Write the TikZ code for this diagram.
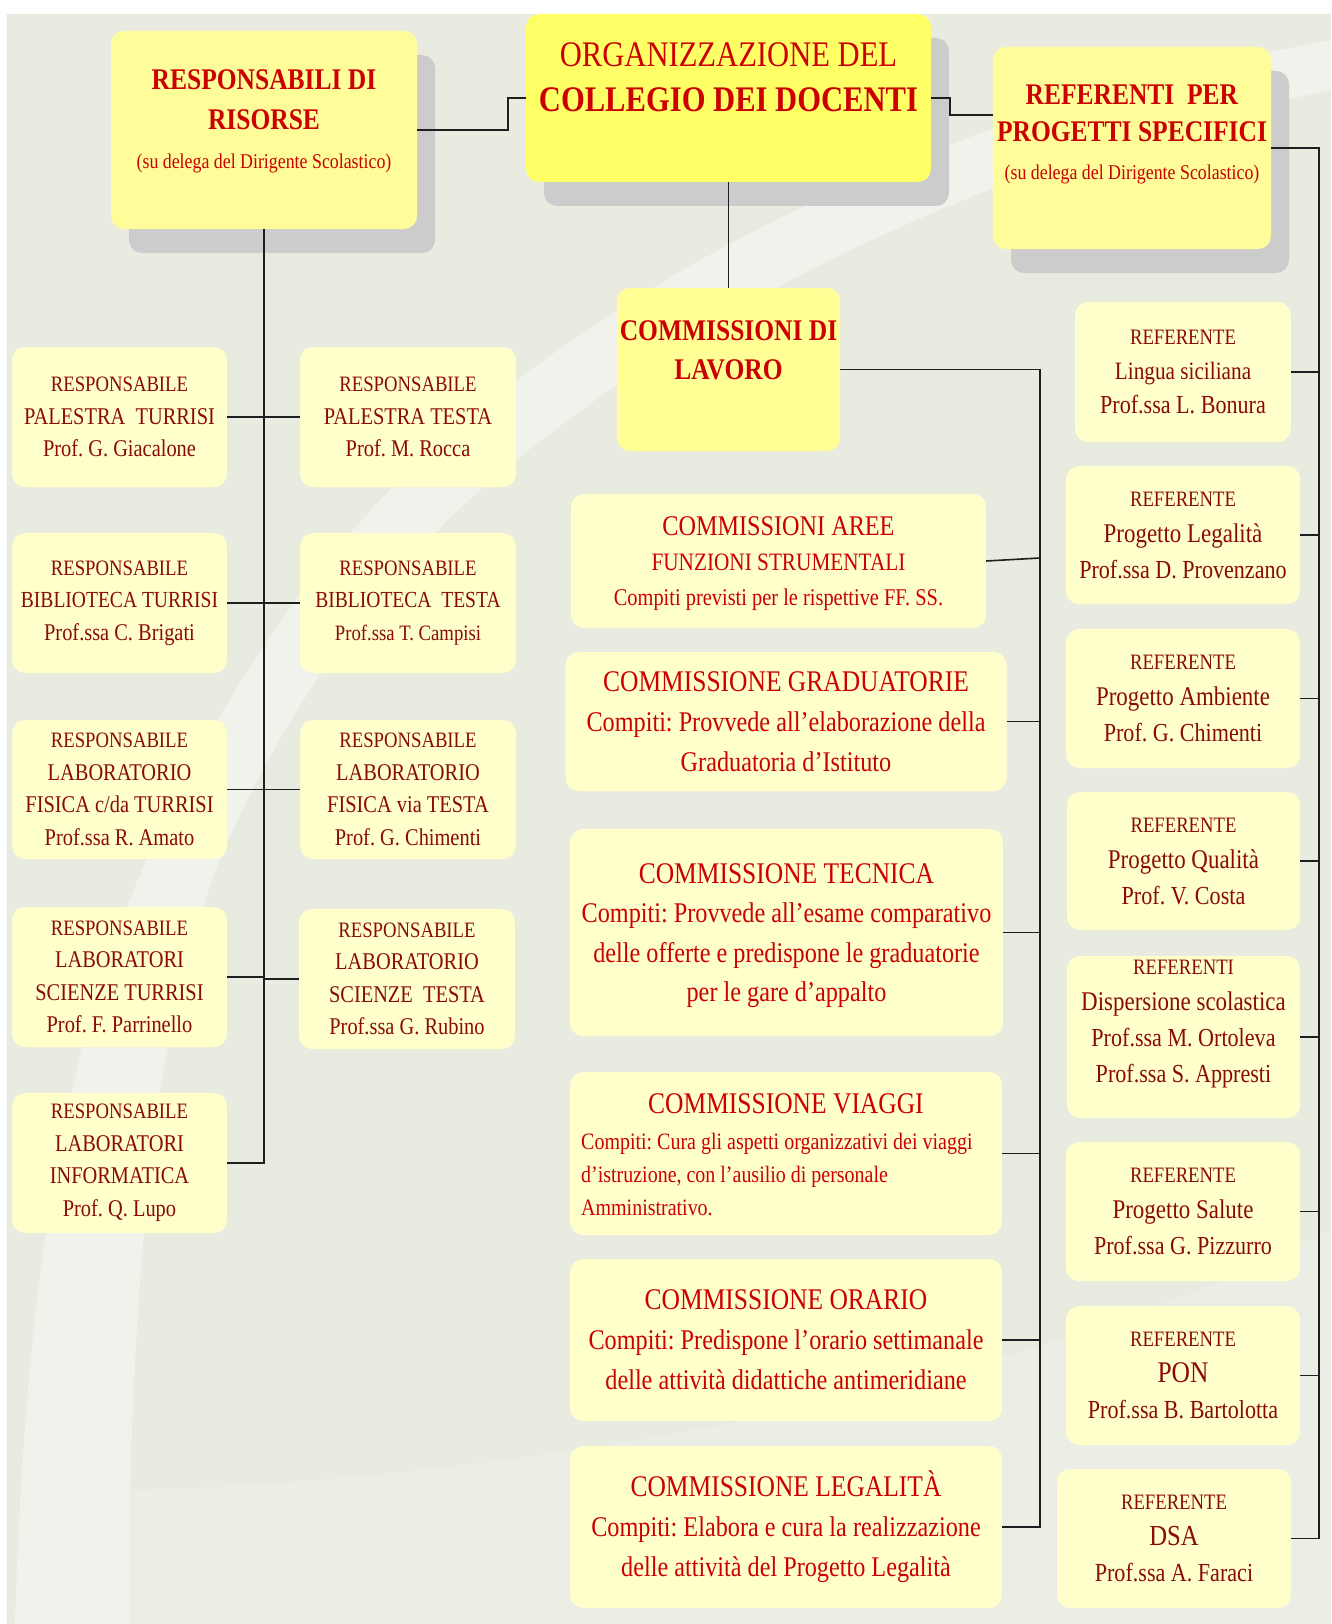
\documentclass[tikz,border=0pt]{standalone}
\usepackage{fontspec}
\setmainfont{Liberation Serif}[FakeStretch=0.85]
\usetikzlibrary{shadows}
\frenchspacing

\definecolor{bgbase}{RGB}{233,235,224}
\definecolor{bglight}{RGB}{241,242,235}
\definecolor{bgmid}{RGB}{236,238,229}
\definecolor{shadowgray}{RGB}{204,204,204}
\definecolor{headyellow}{RGB}{255,255,102}
\definecolor{paleyellow}{RGB}{255,253,153}
\definecolor{lavyellow}{RGB}{255,255,150}
\definecolor{cream}{RGB}{255,255,204}
\definecolor{docred}{RGB}{204,0,0}
\definecolor{maroonc}{RGB}{138,10,10}
\definecolor{wirec}{RGB}{30,30,30}

\newcommand\fsz[1]{\fontsize{#1}{#1}\selectfont}

\tikzset{
  wire/.style={draw=wirec, line width=1.6pt},
  panel/.style={rounded corners=13pt, inner sep=0pt, align=center},
  dims/.style 2 args={minimum width=#1pt, minimum height=#2pt},
  creambox/.style={panel, fill=cream},
  resp/.style={creambox, text=maroonc, font=\fontsize{24}{32.5}\selectfont},
  refe/.style={creambox, text=maroonc, font=\fontsize{26}{36}\selectfont},
  comm/.style={creambox, text=docred, font=\fontsize{28.5}{40}\selectfont},
  heading/.style={text=docred, align=center, inner sep=0pt},
  lift/.style={general shadow={fill=shadowgray, shadow xshift=18pt, shadow yshift=-24pt}},
}

\begin{document}
\begin{tikzpicture}[x=1pt, y=-1pt]
\useasboundingbox (0,0) rectangle (1331,1624);
\fill[white] (0,0) rectangle (1331,1624);

% background with a soft light swoosh
\fill[bgbase] (7,14) rectangle (1331,1624);
\fill[bgmid] (130,1490) .. controls (500,1480) and (1000,1400) .. (1331,1230)
  -- (1331,1624) -- (130,1624) -- cycle;
\fill[bglight] (15,1624) .. controls (25,1300) and (60,1050) .. (151,850)
  .. controls (240,660) and (320,560) .. (400,480)
  .. controls (600,290) and (900,120) .. (1331,40) -- (1331,90)
  .. controls (950,170) and (680,320) .. (480,490)
  .. controls (380,580) and (290,700) .. (224,850)
  .. controls (170,980) and (140,1150) .. (130,1490) -- (130,1624) -- cycle;

% main boxes
\node[panel, lift, fill=paleyellow, dims={306}{198}] (res) at (264,130) {};
\node[panel, lift, fill=headyellow, dims={405}{168}] (col) at (728.5,98) {};
\node[panel, lift, fill=paleyellow, dims={278}{202}] (ref) at (1132,148) {};
\node[panel, fill=lavyellow, dims={223}{163}] (lav) at (728.5,369.5) {};

\node[heading, font=\fontsize{30}{39.5}\selectfont] (resT) at (264,121.5)
  {\textbf{RESPONSABILI DI}\\\textbf{RISORSE}\\{\fsz{21}(su delega del Dirigente Scolastico)}};
\node[heading, font=\fontsize{36}{45}\selectfont] (colT) at (728.5,77.5)
  {ORGANIZZAZIONE DEL\\\textbf{COLLEGIO DEI DOCENTI}};
\node[heading, font=\fontsize{30}{37.5}\selectfont] (refT) at (1132,134)
  {\textbf{REFERENTI\ \ PER}\\\textbf{PROGETTI SPECIFICI}\\{\fsz{21}(su delega del Dirigente Scolastico)}};
\node[heading, font=\fontsize{30}{39}\selectfont] (lavT) at (728.5,350)
  {\textbf{COMMISSIONI DI}\\\textbf{LAVORO}};

% responsabili di risorse
\node[resp, dims={215}{140}] (palT) at (119.5,417)
  {{\fsz{22}RESPONSABILE}\\PALESTRA\ \ TURRISI\\Prof. G. Giacalone};
\node[resp, dims={216}{140}] (palS) at (408,417)
  {{\fsz{22}RESPONSABILE}\\PALESTRA TESTA\\Prof. M. Rocca};
\node[resp, dims={215}{140}] (bibT) at (119.5,603)
  {{\fsz{22}RESPONSABILE}\\{\fsz{23}BIBLIOTECA TURRISI}\\Prof.ssa C. Brigati};
\node[resp, dims={216}{140}] (bibS) at (408,603)
  {{\fsz{22}RESPONSABILE}\\{\fsz{23}BIBLIOTECA\ \ TESTA}\\{\fsz{22}Prof.ssa T. Campisi}};
\node[resp, dims={215}{139}] (fisT) at (119.5,789.5)
  {{\fsz{22}RESPONSABILE}\\LABORATORIO\\FISICA c/da TURRISI\\Prof.ssa R. Amato};
\node[resp, dims={216}{139}] (fisS) at (408,789.5)
  {{\fsz{22}RESPONSABILE}\\LABORATORIO\\FISICA via TESTA\\Prof. G. Chimenti};
\node[resp, dims={215}{140}] (sciT) at (119.5,977)
  {{\fsz{22}RESPONSABILE}\\LABORATORI\\SCIENZE TURRISI\\Prof. F. Parrinello};
\node[resp, dims={216}{140}] (sciS) at (407,979)
  {{\fsz{22}RESPONSABILE}\\LABORATORIO\\SCIENZE\ \ TESTA\\Prof.ssa G. Rubino};
\node[resp, dims={215}{140}] (infT) at (119.5,1163)
  {{\fsz{22}RESPONSABILE}\\LABORATORI\\INFORMATICA\\Prof. Q. Lupo};

% commissioni
\node[creambox, dims={415}{134}] (areeC) at (778.5,561) {};
\node[heading, font=\fontsize{24}{35}\selectfont] (areeT) at (778.5,564)
  {{\fsz{28.5}COMMISSIONI AREE}\\{\fsz{25}FUNZIONI STRUMENTALI}\\Compiti previsti per le rispettive FF. SS.};
\node[comm, dims={441}{139}] (gradC) at (786,721.5)
  {{\fsz{30}COMMISSIONE GRADUATORIE}\\Compiti: Provvede all’elaborazione della\\Graduatoria d’Istituto};
\node[creambox, dims={433}{207}] (tecC) at (786.5,932.5) {};
\node[heading, font=\fontsize{28.5}{39.5}\selectfont] (tecT) at (786.5,935.5)
  {{\fsz{30}COMMISSIONE TECNICA}\\Compiti: Provvede all’esame comparativo\\delle offerte e predispone le graduatorie\\per le gare d’appalto};
\node[creambox, dims={432}{163}] (viaC) at (786,1153.5) {};
\node[heading, font=\fsz{30}] (viaT) at (786,1104) {COMMISSIONE VIAGGI};
\node[heading, align=left, anchor=west, font=\fontsize{23.5}{33}\selectfont] (viaB) at (581,1174.5)
  {Compiti: Cura gli aspetti organizzativi dei viaggi\\d’istruzione, con l’ausilio di personale\\Amministrativo.};
\node[comm, dims={432}{162}] (oraC) at (786,1340)
  {{\fsz{30}COMMISSIONE ORARIO}\\Compiti: Predispone l’orario settimanale\\delle attività didattiche antimeridiane};
\node[comm, dims={432}{162}] (legC) at (786,1527)
  {{\fsz{30}COMMISSIONE LEGALITÀ}\\Compiti: Elabora e cura la realizzazione\\delle attività del Progetto Legalità};

% referenti
\node[refe, dims={216}{140}, font=\fontsize{25}{34.5}\selectfont] (rLin) at (1183,372)
  {{\fsz{22}REFERENTE}\\Lingua siciliana\\{\fsz{26}Prof.ssa L. Bonura}};
\node[refe, dims={234}{138}] (rLeg) at (1183,535)
  {{\fsz{22}REFERENTE}\\{\fsz{27}Progetto Legalità}\\Prof.ssa D. Provenzano};
\node[refe, dims={234}{139}] (rAmb) at (1183,698.5)
  {{\fsz{22}REFERENTE}\\{\fsz{27}Progetto Ambiente}\\Prof. G. Chimenti};
\node[refe, dims={233}{138}] (rQua) at (1183.5,861)
  {{\fsz{22}REFERENTE}\\{\fsz{27}Progetto Qualità}\\Prof. V. Costa};
\node[creambox, dims={233}{162}] (rDis) at (1183.5,1037) {};
\node[heading, text=maroonc, font=\fontsize{26}{36}\selectfont] (rDisT) at (1183.5,1024)
  {{\fsz{22}REFERENTI}\\{\fsz{27}Dispersione scolastica}\\Prof.ssa M. Ortoleva\\Prof.ssa S. Appresti};
\node[refe, dims={234}{139}] (rSal) at (1183,1211.5)
  {{\fsz{22}REFERENTE}\\{\fsz{27}Progetto Salute}\\Prof.ssa G. Pizzurro};
\node[refe, dims={234}{139}] (rPon) at (1183,1375.5)
  {{\fsz{22}REFERENTE}\\{\fsz{30}PON}\\Prof.ssa B. Bartolotta};
\node[refe, dims={234}{139}] (rDsa) at (1174,1538.5)
  {{\fsz{22}REFERENTE}\\{\fsz{29}DSA}\\Prof.ssa A. Faraci};

% connectors
\coordinate (kneeL) at (508,130);
\coordinate (kneeR) at (950,115);
\coordinate (spineM) at (1040,0);
\coordinate (spineR) at (1319,0);

\draw[wire] (res.east) -- (kneeL) |- (col.west);
\draw[wire] (col.east) -| (kneeR) -- (kneeR -| ref.west);
\draw[wire] (col.south) -- (lav.north);

% left trunk
\draw[wire] (res.south) -- (res.south |- infT.east) -- (infT.east);
\draw[wire] (palT.east) -- (palS.west);
\draw[wire] (bibT.east) -- (bibS.west);
\draw[wire] (fisT.east) -- (fisS.west);
\draw[wire] (sciT.east) -- (sciT.east -| res.south) -- (sciS.west -| res.south) -- (sciS.west);

% middle spine
\coordinate (areeJ) at (1040,558);
\draw[wire] (lav.east) -- (lav.east -| spineM) -- (legC.east -| spineM) -- (legC.east);
\draw[wire] (areeC.east) -- (areeJ);
\foreach \n in {gradC,tecC,viaC,oraC}
  \draw[wire] (\n.east) -- (\n.east -| spineM);

% right spine
\draw[wire] (ref.east) -- (ref.east -| spineR) -- (rDsa.east -| spineR) -- (rDsa.east);
\foreach \n in {rLin,rLeg,rAmb,rQua,rDis,rSal,rPon}
  \draw[wire] (\n.east) -- (\n.east -| spineR);
\end{tikzpicture}
\end{document}
